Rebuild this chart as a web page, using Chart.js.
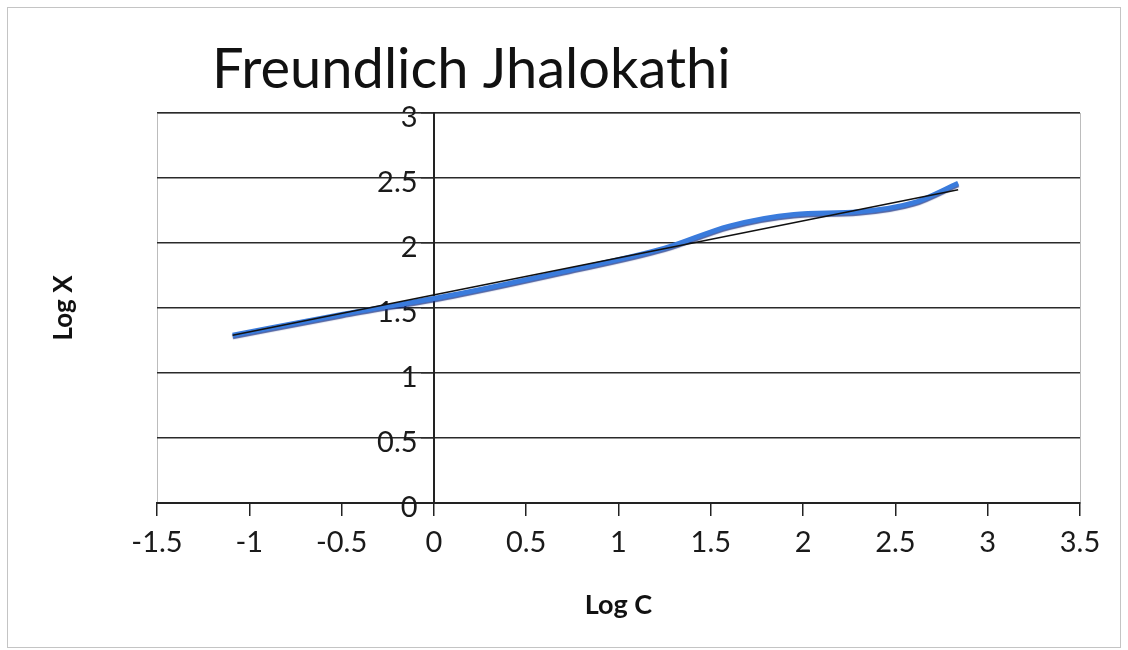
<!DOCTYPE html>
<html>
<head>
<meta charset="utf-8">
<script src="https://cdn.jsdelivr.net/npm/chart.js@4.4.1/dist/chart.umd.min.js"></script>
<style>
  html, body { margin: 0; padding: 0; background: #fff; }
  #wrap { width: 1128px; height: 650px; }
</style>
</head>
<body>
<div id="wrap"><canvas id="chart" width="1128" height="650"></canvas></div>
<script>
// data
const logC = [-1.09, -0.5, 0.1, 0.7, 1.25, 1.6, 1.95, 2.3, 2.6, 2.84];
const logX = [1.29, 1.45, 1.6, 1.78, 1.96, 2.13, 2.22, 2.24, 2.31, 2.46];
// linear trendline ends
const trendC = [-1.09, 2.84];
const trendX = [1.29, 2.41];
const xTickValues = [-1.5, -1, -0.5, 0, 0.5, 1, 1.5, 2, 2.5, 3, 3.5];
const yTickValues = [0, 0.5, 1, 1.5, 2, 2.5, 3];

const FONT = "Lato, 'Open Sans', 'Noto Sans', sans-serif";
const INK = "#1a1a1a";

const toPoints = (xs, ys) => xs.map((x, i) => ({ x, y: ys[i] }));

const framePlugin = {
  id: "frame",
  beforeDraw(chart) {
    const { ctx, chartArea: a } = chart;
    ctx.save();
    ctx.strokeStyle = "#c4c4c4";
    ctx.lineWidth = 1;
    ctx.strokeRect(7.5, 7.5, 1113, 640);
    ctx.strokeStyle = "#bcbcbc";
    ctx.strokeRect(Math.round(a.left) + 0.5, Math.round(a.top) + 0.5,
      Math.round(a.right - a.left), Math.round(a.bottom - a.top));
    ctx.restore();
  },
  // soft navy edge under the data line, like the Excel shadow
  beforeDatasetDraw(chart, args) {
    if (args.index !== 1) return;
    const ctx = chart.ctx;
    ctx.save();
    ctx.shadowColor = "rgba(20, 45, 130, 0.75)";
    ctx.shadowOffsetY = 1.5;
    ctx.shadowBlur = 1;
  },
  afterDatasetDraw(chart, args) {
    if (args.index !== 1) return;
    chart.ctx.restore();
  },
  afterDraw(chart) {
    const { ctx } = chart;
    ctx.save();
    ctx.fillStyle = "#111";
    ctx.font = "56px " + FONT;
    ctx.textBaseline = "alphabetic";
    ctx.fillText("Freundlich Jhalokathi", 212, 88);
    ctx.restore();
  }
};

new Chart(document.getElementById("chart"), {
  type: "scatter",
  data: {
    datasets: [
      {
        label: "Trend",
        data: toPoints(trendC, trendX),
        showLine: true,
        borderColor: "#111",
        borderWidth: 1.5,
        pointRadius: 0,
        order: 0
      },
      {
        label: "Log X",
        data: toPoints(logC, logX),
        showLine: true,
        borderColor: "#3a7bdc",
        borderWidth: 5,
        cubicInterpolationMode: "monotone",
        pointRadius: 0,
        order: 1
      }
    ]
  },
  options: {
    responsive: false,
    animation: false,
    layout: { padding: { left: 48, right: 48, top: 113, bottom: 29 } },
    plugins: { legend: { display: false }, tooltip: { enabled: false } },
    scales: {
      x: {
        type: "linear",
        position: "bottom",
        min: -1.5,
        max: 3.5,
        afterBuildTicks: (s) => { s.ticks = xTickValues.map((v) => ({ value: v })); },
        afterFit: (s) => { s.height = 118; },
        ticks: {
          callback: (v) => String(v),
          font: { family: FONT, size: 29 },
          color: INK,
          padding: 9,
          maxRotation: 0,
          autoSkip: false
        },
        grid: { drawOnChartArea: false, drawTicks: true, tickLength: 13, color: "#222", lineWidth: 1.5 },
        border: { color: "#222", width: 2 },
        title: { display: true, text: "Log C", color: "#111", padding: 0, font: { family: FONT, size: 27, weight: "bold" } }
      },
      y: {
        type: "linear",
        position: { x: 0 },
        min: 0,
        max: 3,
        afterBuildTicks: (s) => { s.ticks = yTickValues.map((v) => ({ value: v })); },
        ticks: {
          // the labels sit against the axis line, so pad them with trailing spaces
          callback: (v) => String(v) + "\u2002\u200A",
          font: { family: FONT, size: 29 },
          color: INK,
          labelOffset: 5
        },
        grid: { color: "#2a2a2a", lineWidth: 1.5, tickLength: 12 },
        border: { color: "#222", width: 2 }
      },
      yTitle: {
        type: "linear",
        position: "left",
        afterFit: (s) => { s.width = 109; },
        ticks: { display: false },
        grid: { display: false, drawTicks: false },
        border: { display: false },
        title: { display: true, text: "Log X", color: "#111", padding: 0, font: { family: FONT, size: 26, weight: "bold" } }
      }
    }
  },
  plugins: [framePlugin]
});
</script>
</body>
</html>
